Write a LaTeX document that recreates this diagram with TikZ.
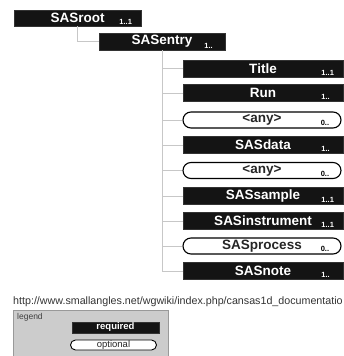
\documentclass[tikz,border=0pt]{standalone}
\usepackage{fontspec}
\setmainfont{Liberation Sans}
\begin{document}
\begin{tikzpicture}[x=1pt,y=-1pt,
  req/.style={draw=black!80, line width=0.5pt, fill=black!92, text=white,
    font=\fontsize{13.5}{15}\selectfont\bfseries,
    minimum width=160pt, minimum height=17pt, inner sep=0pt},
  opt/.style={draw=black, line width=1.1pt, fill=white, rounded corners=8pt,
    text=black!85, font=\fontsize{13.5}{15}\selectfont\bfseries,
    minimum width=158pt, minimum height=16pt, inner sep=0pt},
  mult/.style={font=\fontsize{7.5}{8}\selectfont\bfseries, inner sep=0pt,
    anchor=south west, text=white},
  multo/.style={mult, text=black},
  conn/.style={draw=black!22, line width=0.8pt},
]
\useasboundingbox (0,0) rectangle (344,356);

% root and entry
\node[req, minimum width=127pt, minimum height=16pt] (root) at (77.5,18) {SASroot};
\node[mult] (rootm) at ([xshift=-22pt,yshift=2pt]root.south east) {1..1};
\node[req, minimum width=126pt] (entry) at (162,41.5) {SASentry};
\node[mult] (entrym) at ([xshift=-21pt,yshift=2pt]entry.south east) {1..};

\draw[conn] (root.south) |- (entry.west);

% children
\node[req] (c1) at (263,68.5) {Title};
\node[mult] (c1m) at ([xshift=-22pt,yshift=2pt]c1.south east) {1..1};
\node[req] (c2) at (263,93) {Run};
\node[mult] (c2m) at ([xshift=-22pt,yshift=2pt]c2.south east) {1..};
\node[opt] (c3) at (262,120) {<any>};
\node[multo] (c3m) at ([xshift=-21pt,yshift=2.5pt]c3.south east) {0..};
\node[req] (c4) at (263,145) {SASdata};
\node[mult] (c4m) at ([xshift=-22pt,yshift=2pt]c4.south east) {1..};
\node[opt] (c5) at (262,170.5) {<any>};
\node[multo] (c5m) at ([xshift=-21pt,yshift=2.5pt]c5.south east) {0..};
\node[req] (c6) at (263,196) {SASsample};
\node[mult] (c6m) at ([xshift=-22pt,yshift=2pt]c6.south east) {1..1};
\node[req] (c7) at (263,221) {SASinstrument};
\node[mult] (c7m) at ([xshift=-22pt,yshift=2pt]c7.south east) {1..1};
\node[opt] (c8) at (262,246) {SASprocess};
\node[multo] (c8m) at ([xshift=-21pt,yshift=2.5pt]c8.south east) {0..};
\node[req] (c9) at (263,271) {SASnote};
\node[mult] (c9m) at ([xshift=-22pt,yshift=2pt]c9.south east) {1..};

\foreach \c in {c1,c2,c3,c4,c5,c6,c7,c8,c9}
  \draw[conn] (entry.south) |- (\c.west);

% url
\node[anchor=west, font=\fontsize{10.7}{12}\selectfont, text=black!80, inner sep=0pt]
  (url) at (13,302) {http://www.smallangles.net/wgwiki/index.php/cansas1d\_documentatio};

% legend
\node[draw=black!40, fill=black!20, minimum width=155pt, minimum height=52pt,
  anchor=north west, inner sep=0pt] (legbox) at (13,310) {};
\node[anchor=west, font=\fontsize{8.5}{9}\selectfont, text=black!75, inner sep=0pt]
  (legt) at (17,317) {legend};
\node[req, minimum width=87pt, minimum height=11pt,
  font=\fontsize{9.5}{10}\selectfont\bfseries] (lreq) at (115.5,327.5) {required};
\node[opt, minimum width=86pt, minimum height=10pt, rounded corners=5pt,
  line width=0.9pt, font=\fontsize{9.5}{10}\selectfont] (lopt) at (113.5,345) {optional};
\end{tikzpicture}
\end{document}
